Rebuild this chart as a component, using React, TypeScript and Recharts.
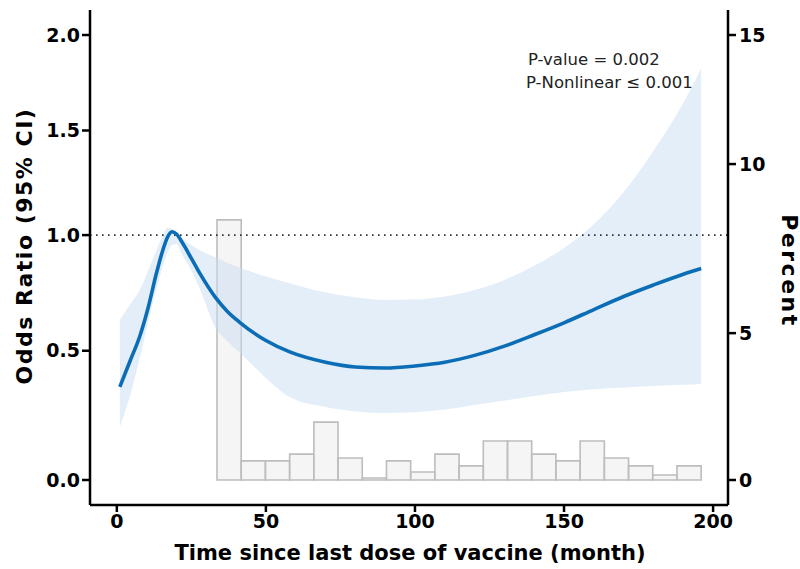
import React from 'react';
import { ComposedChart, Line, Area, XAxis, YAxis, ReferenceLine, ReferenceArea } from 'recharts';

// spline estimate, months since last dose
const months = [1, 4.5, 7.7, 10.5, 13.3, 15.5, 17, 18.5, 20, 22, 25, 28, 33, 37, 41, 50, 58, 70, 80, 90, 100, 110, 120, 130, 140, 150, 160, 170, 180, 190, 196];
const oddsRatio = [0.354, 0.46, 0.56, 0.68, 0.83, 0.935, 0.99, 1.015, 1.005, 0.965, 0.895, 0.825, 0.725, 0.665, 0.62, 0.542, 0.495, 0.453, 0.434, 0.43, 0.438, 0.453, 0.481, 0.519, 0.566, 0.616, 0.672, 0.728, 0.778, 0.825, 0.85];
const ciLower = [0.198, 0.322, 0.47, 0.62, 0.76, 0.866, 0.92, 0.955, 0.96, 0.91, 0.84, 0.756, 0.598, 0.54, 0.495, 0.39, 0.314, 0.275, 0.258, 0.252, 0.255, 0.265, 0.283, 0.3, 0.318, 0.334, 0.345, 0.352, 0.358, 0.363, 0.366];
const ciUpper = [0.628, 0.695, 0.756, 0.84, 0.932, 1.0, 1.035, 1.03, 1.01, 0.985, 0.955, 0.93, 0.9, 0.875, 0.855, 0.815, 0.785, 0.745, 0.725, 0.713, 0.715, 0.728, 0.756, 0.8, 0.862, 0.942, 1.05, 1.2, 1.4, 1.64, 1.82];

// histogram of follow-up time (percent)
const histStart = 33.6;
const histBinWidth = 8.12;
const histPercent = [8.35, 0.65, 0.65, 0.88, 1.97, 0.75, 0.07, 0.65, 0.27, 0.88, 0.48, 1.33, 1.33, 0.88, 0.65, 1.33, 0.75, 0.48, 0.17, 0.48];

const orTicks = [0, 0.5, 1.0, 1.5, 2.0];
const pctTicks = [0, 5, 10, 15];
const xTicks = [0, 50, 100, 150, 200];

// the original axes are not evenly spaced: OR axis is compressed towards the top,
// the percent axis has uneven gaps between its ticks
const OR_TOP = 2.0;
const BEND = 0.5;
const orY = (v: number) => Math.log(1 + (BEND * v) / OR_TOP) / Math.log(1 + BEND);
const pctTickPos = [0, 0.33, 0.71, 1.0];
const pctY = (p: number) => {
  let i = 0;
  while (i < pctTicks.length - 2 && p > pctTicks[i + 1]) i++;
  const t = (p - pctTicks[i]) / (pctTicks[i + 1] - pctTicks[i]);
  return pctTickPos[i] + t * (pctTickPos[i + 1] - pctTickPos[i]);
};

const data = months.map((m, i) => ({
  month: m,
  or: orY(oddsRatio[i]),
  ci: [orY(ciLower[i]), orY(ciUpper[i])],
}));

const bins = histPercent.map((p, i) => ({
  x1: histStart + i * histBinWidth,
  x2: histStart + (i + 1) * histBinWidth,
  y: pctY(p),
}));

const Y_DOMAIN = [-0.0562, 1.0562];
const FONT = '"DejaVu Sans", Verdana, sans-serif';
const tickStyle = { fill: '#000', fontSize: 19, fontWeight: 700, fontFamily: FONT };
const axisLine = { stroke: '#000', strokeWidth: 2.5 };

const backTo = (ticks: number[], fn: (v: number) => number, digits: number) => (t: number) => {
  const hit = ticks.find((v) => Math.abs(fn(v) - t) < 1e-6);
  return hit === undefined ? '' : hit.toFixed(digits);
};

export default function App() {
  return (
    <div style={{ position: 'relative', width: 800, height: 569, background: '#fff', fontFamily: FONT }}>
      <style>{`body{margin:0}`}</style>
      <ComposedChart width={800} height={569} data={data} margin={{ top: 10, right: 0, bottom: 0, left: 0 }}>
        <XAxis
          dataKey="month"
          type="number"
          domain={[-9, 205]}
          ticks={xTicks}
          allowDataOverflow
          height={64}
          tickSize={7}
          tickMargin={3}
          axisLine={axisLine}
          tickLine={axisLine}
          tick={tickStyle}
        />
        <YAxis
          yAxisId="left"
          type="number"
          domain={Y_DOMAIN}
          allowDataOverflow
          ticks={orTicks.map(orY)}
          tickFormatter={backTo(orTicks, orY, 1)}
          width={90}
          tickSize={8}
          tickMargin={2}
          axisLine={axisLine}
          tickLine={axisLine}
          tick={tickStyle}
        />
        <YAxis
          yAxisId="right"
          orientation="right"
          type="number"
          domain={Y_DOMAIN}
          allowDataOverflow
          ticks={pctTicks.map(pctY)}
          tickFormatter={backTo(pctTicks, pctY, 0)}
          width={72}
          tickSize={8}
          tickMargin={3}
          axisLine={axisLine}
          tickLine={axisLine}
          tick={tickStyle}
        />
        {bins.map((b, i) => (
          <ReferenceArea
            key={i}
            yAxisId="right"
            x1={b.x1}
            x2={b.x2}
            y1={0}
            y2={b.y}
            fill="#e8e6e6"
            fillOpacity={0.4}
            stroke="#bdbdbd"
            strokeWidth={1.6}
            ifOverflow="visible"
          />
        ))}
        <Area
          yAxisId="left"
          dataKey="ci"
          type="monotone"
          stroke="none"
          fill="#c9def2"
          fillOpacity={0.5}
          isAnimationActive={false}
        />
        <ReferenceLine yAxisId="left" y={orY(1)} stroke="#333" strokeWidth={1.6} strokeDasharray="1.6 4.4" />
        <Line
          yAxisId="left"
          dataKey="or"
          type="monotone"
          stroke="#0b6db5"
          strokeWidth={3.6}
          dot={false}
          isAnimationActive={false}
        />
      </ComposedChart>
      <div style={{ position: 'absolute', left: 526, top: 48, fontSize: 16.5, color: '#222', lineHeight: '23px', whiteSpace: 'nowrap' }}>
        <div style={{ paddingLeft: 2 }}>P-value = 0.002</div>
        <div>P-Nonlinear ≤ 0.001</div>
      </div>
      <div style={{ position: 'absolute', left: 24, top: 246, transform: 'translate(-50%, -50%) rotate(-90deg)', fontSize: 22, fontWeight: 700, letterSpacing: 1.5, whiteSpace: 'nowrap' }}>
        Odds Ratio (95% CI)
      </div>
      <div style={{ position: 'absolute', left: 789, top: 271, transform: 'translate(-50%, -50%) rotate(90deg)', fontSize: 22, fontWeight: 700, letterSpacing: 2.5, whiteSpace: 'nowrap' }}>
        Percent
      </div>
      <div style={{ position: 'absolute', left: 410, top: 553, transform: 'translate(-50%, -50%)', fontSize: 21, fontWeight: 700, whiteSpace: 'nowrap' }}>
        Time since last dose of vaccine (month)
      </div>
    </div>
  );
}
